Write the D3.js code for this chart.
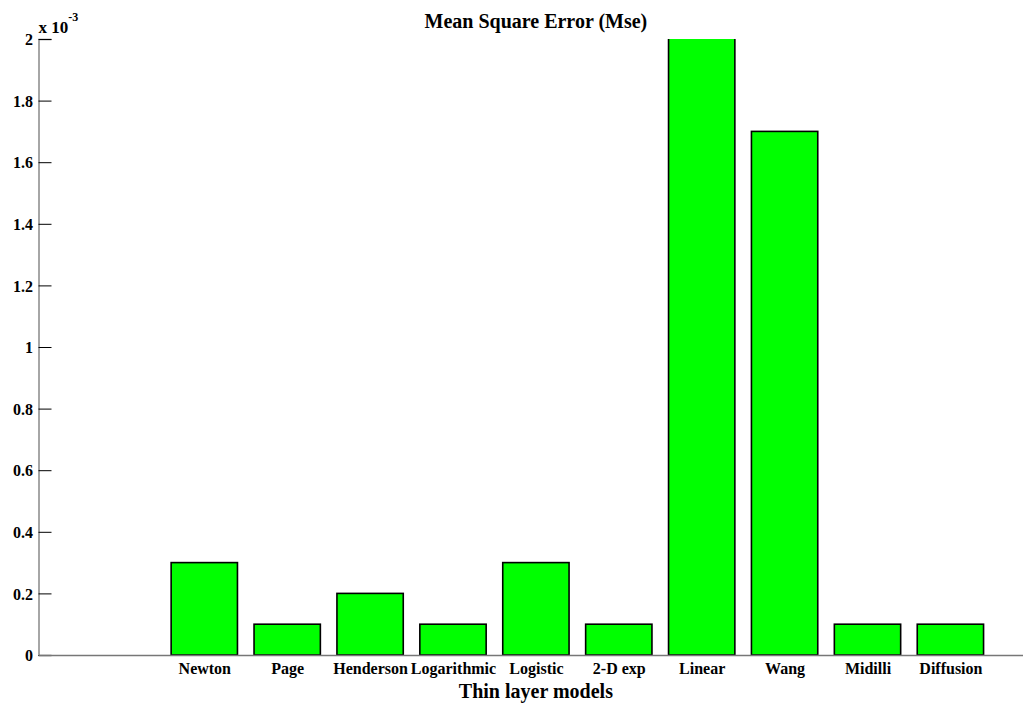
<!DOCTYPE html>
<html>
<head>
<meta charset="utf-8">
<script src="https://cdn.jsdelivr.net/npm/d3@7/dist/d3.min.js"></script>
<style>
  html, body { margin: 0; padding: 0; background: #fff; }
  svg { display: block; }
  svg text { font-family: "Liberation Serif", "Times New Roman", Times, serif !important; font-weight: bold; fill: #000; }
</style>
</head>
<body>
<svg id="chart" width="1023" height="705"></svg>
<script>
// Thin layer drying models and their mean square error (units of 1e-3)
const models = ["Newton", "Page", "Henderson", "Logarithmic", "Logistic", "2-D exp", "Linear", "Wang", "Midilli", "Diffusion"];
const mse = [0.3, 0.1, 0.2, 0.1, 0.3, 0.1, 2.2, 1.7, 0.1, 0.1];
const yTicks = [0, 0.2, 0.4, 0.6, 0.8, 1, 1.2, 1.4, 1.6, 1.8, 2];
const yTickLabels = ["0", "0.2", "0.4", "0.6", "0.8", "1", "1.2", "1.4", "1.6", "1.8", "2"];

const svg = d3.select("#chart");
const plotLeft = 38.5, plotTop = 39, plotBottom = 655;
const unit = 82.9;

// bar positions: models sit at slots 2..11 of a 0..12 axis
const x = d3.scaleLinear().domain([0, 12]).range([plotLeft, plotLeft + 12 * unit]);
const y = d3.scaleLinear().domain([0, 2]).range([plotBottom, plotTop]);
const barW = 0.8;

svg.append("defs").append("clipPath").attr("id", "plotClip")
  .append("rect").attr("x", plotLeft).attr("y", plotTop).attr("width", 12 * unit).attr("height", plotBottom - plotTop);

// bars
svg.append("g").attr("clip-path", "url(#plotClip)")
  .selectAll("rect").data(models).join("rect")
  .attr("x", (d, i) => x(i + 2 - barW / 2))
  .attr("width", x(barW) - x(0))
  .attr("y", (d, i) => y(mse[i]))
  .attr("height", (d, i) => y(0) - y(mse[i]))
  .attr("fill", "#00ff00")
  .attr("stroke", "#000")
  .attr("stroke-width", 1.6);

// y axis
const yAxis = d3.axisLeft(y).tickValues(yTicks).tickFormat((d, i) => yTickLabels[i]).tickSize(-13).tickPadding(5.5);
const gy = svg.append("g").attr("transform", `translate(${plotLeft},0)`).call(yAxis);
gy.attr("font-family", null);
gy.select(".domain").attr("stroke", "#777").attr("stroke-width", 1.3);
gy.selectAll(".tick line").attr("stroke", "#000").attr("stroke-width", 1);
gy.selectAll(".tick text").style("font-size", "16px").attr("dy", "0.35em");

// x axis
const xAxis = d3.axisBottom(x).tickValues(models.map((d, i) => i + 2))
  .tickFormat((d, i) => models[i]).tickSize(0).tickPadding(8);
const gx = svg.append("g").attr("transform", `translate(0,${plotBottom})`).call(xAxis);
gx.attr("font-family", null);
gx.select(".domain").attr("stroke", "#777").attr("stroke-width", 1.3);
gx.selectAll(".tick text").style("font-size", "16px");

// exponent marker
const expo = svg.append("text").attr("x", plotLeft).attr("y", 33).style("font-size", "17px");
expo.append("tspan").text("x 10");
expo.append("tspan").attr("dy", -12).style("font-size", "12px").text("-3");

// title and axis label
svg.append("text").attr("x", x(6)).attr("y", 28).attr("text-anchor", "middle")
  .style("font-size", "20px").text("Mean Square Error (Mse)");
svg.append("text").attr("x", x(6)).attr("y", 698).attr("text-anchor", "middle")
  .style("font-size", "20px").text("Thin layer models");
</script>
</body>
</html>
